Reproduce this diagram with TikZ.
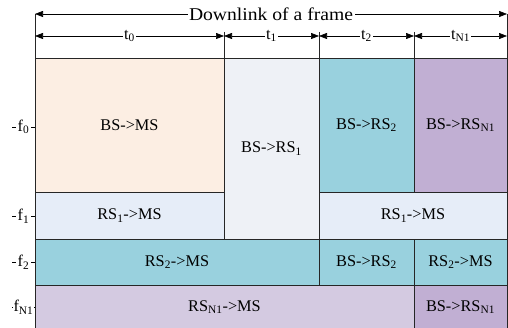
\documentclass[tikz,border=0pt]{standalone}
\usepackage{fontspec}
\setmainfont{Liberation Serif}
\newfontfamily\widefont[FakeStretch=1.09]{Liberation Serif}
\usetikzlibrary{arrows.meta}
\definecolor{peach}{RGB}{252,238,227}
\definecolor{greyblue}{RGB}{238,241,246}
\definecolor{lightblue}{RGB}{230,237,248}
\definecolor{teal2}{RGB}{153,209,222}
\definecolor{purple2}{RGB}{193,175,211}
\definecolor{lilac}{RGB}{212,202,225}
\begin{document}
\begin{tikzpicture}[x=1pt,y=-1pt,
  font=\fontsize{16.3}{19}\selectfont,
  cell/.style={draw=black!85, line width=0.8pt, anchor=north west, inner sep=0pt, outer sep=0pt, align=center},
  dim/.style={{Triangle[length=8pt,width=6pt]}-{Triangle[length=8pt,width=6pt]}, line width=0.6pt},
  lbl/.style={fill=white, inner sep=1.5pt},
  tick/.style={line width=0.6pt},
  vline/.style={line width=0.8pt, draw=black!85}]
\useasboundingbox (0,0) rectangle (508,328);
% cells
\node[cell, fill=peach, minimum width=189pt, minimum height=134pt] (c1) at (35,58) {BS-{>}MS};
\node[cell, fill=greyblue, minimum width=95pt, minimum height=181pt] (c2) at (224,58) {BS-{>}RS\textsubscript{1}};
\node[cell, fill=teal2, minimum width=95pt, minimum height=134pt] (c3) at (319,58) {BS-{>}RS\textsubscript{2}};
\node[cell, fill=purple2, minimum width=93pt, minimum height=134pt] (c4) at (414,58) {BS-{>}RS\textsubscript{N1}};
\node[cell, fill=lightblue, minimum width=189pt, minimum height=47pt] (c5) at (35,192) {RS\textsubscript{1}-{>}MS};
\node[cell, fill=lightblue, minimum width=188pt, minimum height=47pt] (c6) at (319,192) {RS\textsubscript{1}-{>}MS};
\node[cell, fill=teal2, minimum width=284pt, minimum height=46pt] (c7) at (35,239) {RS\textsubscript{2}-{>}MS};
\node[cell, fill=teal2, minimum width=95pt, minimum height=46pt] (c8) at (319,239) {BS-{>}RS\textsubscript{2}};
\node[cell, fill=teal2, minimum width=93pt, minimum height=46pt] (c9) at (414,239) {RS\textsubscript{2}-{>}MS};
\node[cell, fill=lilac, minimum width=379pt, minimum height=44pt] (c10) at (35,285) {RS\textsubscript{N1}-{>}MS};
\node[cell, fill=purple2, minimum width=93pt, minimum height=44pt] (c11) at (414,285) {BS-{>}RS\textsubscript{N1}};
% dimension coordinates
\coordinate (A0) at (35,14);
\coordinate (A4) at (507,14);
\coordinate (B0) at (35,36);
\coordinate (B1) at (224,36);
\coordinate (B2) at (319,36);
\coordinate (B3) at (414,36);
\coordinate (B4) at (507,36);
\coordinate (V1) at (224,32);
\coordinate (V2) at (319,32);
\coordinate (V3) at (414,32);
% vertical guide lines
\draw[vline] (A0) -- (c1.north west);
\draw[vline] (A4) -- (c4.north east);
\draw[vline] (V1) -- (c1.north east);
\draw[vline] (V2) -- (c3.north west);
\draw[vline] (V3) -- (c4.north west);
% arrows
\draw[dim] (A0) -- node[lbl, font=\widefont\fontsize{18}{21}\selectfont] (down) {Downlink of a frame} (A4);
\draw[dim] (B0) -- node[lbl] (t0) {t\textsubscript{0}} (B1);
\draw[dim] (B1) -- node[lbl] (t1) {t\textsubscript{1}} (B2);
\draw[dim] (B2) -- node[lbl] (t2) {t\textsubscript{2}} (B3);
\draw[dim] (B3) -- node[lbl] (t3) {t\textsubscript{N1}} (B4);
% frequency labels
\coordinate (F0a) at (12,127); \coordinate (F0b) at (35,127);
\coordinate (F1a) at (12,216); \coordinate (F1b) at (35,216);
\coordinate (F2a) at (12,262); \coordinate (F2b) at (35,262);
\coordinate (F3a) at (12,307); \coordinate (F3b) at (35,307);
\draw[tick] (F0a) -- node[lbl] (f0) {f\textsubscript{0}} (F0b);
\draw[tick] (F1a) -- node[lbl] (f1) {f\textsubscript{1}} (F1b);
\draw[tick] (F2a) -- node[lbl] (f2) {f\textsubscript{2}} (F2b);
\draw[tick] (F3a) -- node[lbl, inner sep=0.5pt] (f3) {f\textsubscript{N1}} (F3b);
\end{tikzpicture}
\end{document}
